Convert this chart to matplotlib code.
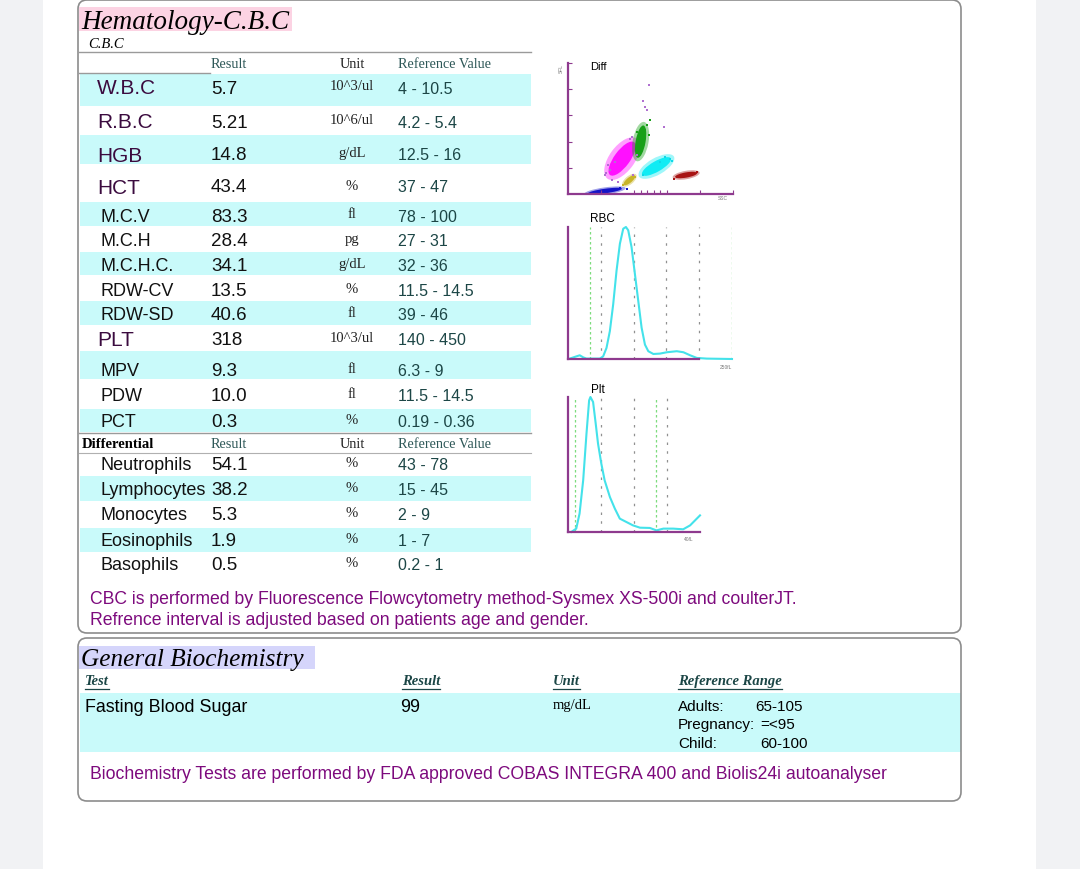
import matplotlib.pyplot as plt
from matplotlib.patches import FancyBboxPatch, Rectangle, Ellipse

# ---------------- data ----------------
cbc_names = ["W.B.C", "R.B.C", "HGB", "HCT", "M.C.V", "M.C.H", "M.C.H.C.",
             "RDW-CV", "RDW-SD", "PLT", "MPV", "PDW", "PCT"]
cbc_results = ["5.7", "5.21", "14.8", "43.4", "83.3", "28.4", "34.1",
               "13.5", "40.6", "318", "9.3", "10.0", "0.3"]
cbc_units = ["10^3/ul", "10^6/ul", "g/dL", "%", "fl", "pg", "g/dL",
             "%", "fl", "10^3/ul", "fl", "fl", "%"]
cbc_refs = ["4 - 10.5", "4.2 - 5.4", "12.5 - 16", "37 - 47", "78 - 100", "27 - 31",
            "32 - 36", "11.5 - 14.5", "39 - 46", "140 - 450", "6.3 - 9",
            "11.5 - 14.5", "0.19 - 0.36"]
main_params = ["W.B.C", "R.B.C", "HGB", "HCT", "PLT"]

diff_names = ["Neutrophils", "Lymphocytes", "Monocytes", "Eosinophils", "Basophils"]
diff_results = ["54.1", "38.2", "5.3", "1.9", "0.5"]
diff_units = ["%", "%", "%", "%", "%"]
diff_refs = ["43 - 78", "15 - 45", "2 - 9", "1 - 7", "0.2 - 1"]

# RBC histogram (fL vs relative count)
rbc_fl = [2.6, 12.8, 17.9, 23.0, 28.1, 48.5, 53.6, 58.7, 63.8, 68.9, 74.0, 79.1,
          84.2, 88.3, 91.8, 96.9, 102.0, 107.1, 112.2, 117.3, 122.4, 130.1, 140.3,
          150.5, 165.8, 176.0, 186.2, 196.4, 211.7, 250.0]
rbc_count = [0.3, 2.0, 2.8, 1.3, 0.3, 0.3, 2.0, 8.4, 21.1, 41.5, 66.9, 87.3,
             98.7, 100.0, 97.5, 84.7, 64.4, 44.0, 23.7, 10.9, 5.9, 3.8, 4.1,
             5.1, 5.9, 5.1, 2.8, 0.8, 0.3, 0.0]

# PLT histogram
plt_fl = [1.0, 2.5, 3.5, 4.6, 5.6, 6.4, 6.8, 7.6, 8.4, 9.1, 10.1, 11.1, 12.7,
          14.2, 15.7, 17.7, 19.7, 21.8, 24.8, 26.8, 28.9, 31.9, 34.9, 37.0, 38.5, 40.0]
plt_count = [0.0, 2.5, 13.6, 38.3, 72.8, 97.5, 100.0, 96.3, 80.2, 65.4, 50.6,
             38.3, 25.9, 17.3, 9.9, 7.4, 4.9, 3.2, 3.0, 1.2, 2.5, 2.5, 2.0, 4.9,
             8.6, 12.3]

# DIFF scattergram clusters (SSC, SFL)
cl_x = [56, 82, 110, 134, 179, 93]
cl_y = [4.5, 54, 80, 42, 29, 21]
cl_len = [52, 62, 50, 50, 34, 22]
cl_wid = [7, 24, 15, 16, 8, 8]
cl_ang = [8, 54, 80, 30, 10, 40]
cl_colors = ["#1414c8", "#ff10ff", "#18a018", "#10ecf4", "#a81414", "#c8b428"]

lav_x = [122, 114, 117, 119, 94, 61, 56, 66, 76, 99, 145, 71, 97, 105, 64, 58]
lav_y = [167, 142, 133, 128, 84.5, 44, 28.5, 21, 18, 28.5, 102, 49, 87, 60, 36, 32]
grn_x = [124.5, 117, 104, 122, 112, 119]
grn_y = [112.5, 97, 95, 90, 69, 105]
cyn_x = [155, 147, 114, 140, 158]
cyn_y = [54, 56.5, 28.5, 49, 50]
red_x = [160, 196, 165]
red_y = [23, 34, 26]
blu_x = [33, 79, 89, 40]
blu_y = [0.5, 9, 8, 2]
yel_x = [84, 102]
yel_y = [14, 26]

bio_tests = ["Fasting Blood Sugar"]
bio_results = ["99"]
bio_units = ["mg/dL"]
bio_ref_groups = ["Adults:", "Pregnancy:", "Child:"]
bio_ref_values = ["65-105", "=<95", "60-100"]

# ---------------- layout ----------------
W, H = 1080, 870
SANS = "Liberation Sans"
SERIF = "Liberation Serif"
CYAN = "#c9fafa"
PURPLE = "#8e3a8e"
NAME_COL = "#3b0b3f"
REF_COL = "#1c4646"
HEAD_COL = "#2e5858"
NOTE_COL = "#7d0a7d"

fig = plt.figure(figsize=(10.8, 8.7), dpi=100, facecolor="#f1f2f4")
ax = fig.add_axes([0, 0, 1, 1])
ax.set_xlim(0, W)
ax.set_ylim(H, 0)
ax.axis("off")

ax.add_patch(Rectangle((43, 0), 993, H, facecolor="white", edgecolor="none", zorder=0))
for (bx, by, bw, bh) in [(78, 1, 883, 633), (78, 639, 883, 163)]:
    ax.add_patch(FancyBboxPatch((bx, by), bw, bh, boxstyle="round,pad=0,rounding_size=9",
                                facecolor="none", edgecolor="#8c8c8c", lw=1.2, zorder=2))

# titles
ax.add_patch(Rectangle((79, 8), 213, 24, facecolor="#fcd3e3", edgecolor="none", zorder=1))
ax.text(81, 29, "Hematology-C.B.C", family=SERIF, style="italic", fontsize=19.5,
        va="baseline", color="black", zorder=3)
ax.text(88, 45, "C.B.C", family=SERIF, style="italic", fontsize=10.5, va="center")

# shaded bands
cbc_row_y = [89, 123, 156, 188, 217, 242, 267, 292, 316, 341, 372, 397, 423]
cbc_bands = [(75, 107), (136, 165), (203, 227), (253, 276), (302, 326), (352, 380), (410, 433)]
diff_row_y = [466, 491, 516, 542, 566]
diff_bands = [(477, 502), (529, 553)]
for top, bot in cbc_bands + diff_bands:
    ax.barh((top + bot) / 2, 451, left=80, height=bot - top, color=CYAN, zorder=1)

# table lines
ax.plot([79, 531], [53, 53], color="#9a9a9a", lw=1, zorder=2)
ax.plot([79, 210], [74, 74], color="#9a9a9a", lw=1, zorder=2)
ax.plot([79, 531], [434, 434], color="#9a9a9a", lw=1, zorder=2)
ax.plot([79, 531], [454, 454], color="#b0b0b0", lw=0.8, zorder=2)

# headers
for hy in [64, 445]:
    ax.text(211, hy, "Result", family=SERIF, fontsize=10.3, color=HEAD_COL, va="center")
    ax.text(352, hy, "Unit", family=SERIF, fontsize=10.3, color="#222222", va="center",
            ha="center")
    ax.text(398, hy, "Reference Value", family=SERIF, fontsize=10.3, color=HEAD_COL,
            va="center")
ax.text(82, 445, "Differential", family=SERIF, fontsize=10.5, weight="bold", va="center")

for i, name in enumerate(cbc_names):
    y = cbc_row_y[i]
    if name in main_params:
        ax.text(97, y, name, family=SANS, fontsize=15, color=NAME_COL, va="center")
    else:
        ax.text(100, y, name, family=SANS, fontsize=13, color="#111111", va="center")
    ax.text(211, y, cbc_results[i], family=SANS, fontsize=13.5, color="#111111", va="center")
    ax.text(352, y - 2, cbc_units[i], family=SERIF, fontsize=10.5, color="#222222",
            va="center", ha="center")
    ax.text(398, y, cbc_refs[i], family=SANS, fontsize=11.5, color=REF_COL, va="center")

for i, name in enumerate(diff_names):
    y = diff_row_y[i]
    ax.text(100, y, name, family=SANS, fontsize=13, color="#111111", va="center")
    ax.text(211, y, diff_results[i], family=SANS, fontsize=13.5, color="#111111", va="center")
    ax.text(352, y - 2, diff_units[i], family=SERIF, fontsize=10.5, color="#222222",
            va="center", ha="center")
    ax.text(398, y, diff_refs[i], family=SANS, fontsize=11.5, color=REF_COL, va="center")

ax.text(90, 599.5, "CBC is performed by Fluorescence Flowcytometry method-Sysmex XS-500i and coulterJT.",
        family=SANS, fontsize=12.7, color=NOTE_COL, va="center")
ax.text(90, 620.5, "Refrence interval is adjusted based on patients age and gender.",
        family=SANS, fontsize=12.7, color=NOTE_COL, va="center")

# ---------------- biochemistry ----------------
ax.add_patch(Rectangle((79, 647), 236, 23, facecolor="#d5d5fb", edgecolor="none", zorder=1))
ax.text(81, 666, "General Biochemistry", family=SERIF, style="italic", fontsize=18.2,
        va="baseline", zorder=3)
ax.barh(723.5, 881, left=80, height=59, color=CYAN, zorder=1)

renderer = fig.canvas.get_renderer()
inv = ax.transData.inverted()
for hx, label in zip([85, 402, 553, 678], ["Test", "Result", "Unit", "Reference Range"]):
    t = ax.text(hx, 682, label, family=SERIF, style="italic", weight="bold",
                fontsize=10.5, color=REF_COL, va="center")
    bb = t.get_window_extent(renderer)
    (x0, _), (x1, _) = inv.transform([[bb.x0, bb.y0], [bb.x1, bb.y1]])
    ax.plot([x0, x1], [690, 690], color=REF_COL, lw=0.9)

ax.text(85, 708, bio_tests[0], family=SANS, fontsize=12.9, va="center")
ax.text(400, 708, bio_results[0], family=SANS, fontsize=12.9, va="center")
ax.text(553, 706, bio_units[0], family=SERIF, fontsize=10.5, va="center")
ref_val_x = [755, 760, 760]
for i, grp in enumerate(bio_ref_groups):
    y = 707 + 18.5 * i
    ax.text(678, y, grp, family=SANS, fontsize=11, va="center")
    ax.text(ref_val_x[i], y, bio_ref_values[i], family=SANS, fontsize=11, va="center")

ax.text(90, 774.5, "Biochemistry Tests are performed by FDA approved COBAS INTEGRA 400 and Biolis24i autoanalyser",
        family=SANS, fontsize=12.7, color=NOTE_COL, va="center")


# ---------------- instrument plots ----------------
def px_axes(x0, x1, y0, y1):
    a = fig.add_axes([x0 / W, 1 - y1 / H, (x1 - x0) / W, (y1 - y0) / H])
    a.patch.set_alpha(0)
    for s in ["top", "right"]:
        a.spines[s].set_visible(False)
    for s in ["left", "bottom"]:
        a.spines[s].set_color(PURPLE)
        a.spines[s].set_linewidth(1.6)
    a.tick_params(labelbottom=False, labelleft=False)
    return a


# DIFF
axd = px_axes(568, 733, 64, 195)
axd.set_xlim(0, 250)
axd.set_ylim(0, 200)
axd.set_xticks([50, 100, 150, 200, 250])
axd.set_xticks([110, 120, 130, 140], minor=True)
axd.set_yticks([40, 80, 120, 160, 200])
axd.tick_params(which="both", direction="in", length=3, width=0.8, color=PURPLE)
for i in range(len(cl_x)):
    axd.add_patch(Ellipse((cl_x[i], cl_y[i]), cl_len[i] * 1.22, cl_wid[i] * 1.6,
                          angle=cl_ang[i], color=cl_colors[i], alpha=0.4, lw=0))
    axd.add_patch(Ellipse((cl_x[i], cl_y[i]), cl_len[i], cl_wid[i],
                          angle=cl_ang[i], color=cl_colors[i], lw=0))
for xs, ys, c in [(lav_x, lav_y, "#b070d0"), (grn_x, grn_y, "#18a018"),
                  (cyn_x, cyn_y, "#10d8e8"), (red_x, red_y, "#a81414"),
                  (blu_x, blu_y, "#1414c8"), (yel_x, yel_y, "#c8b428")]:
    axd.scatter(xs, ys, s=2.5, marker="s", color=c, lw=0, clip_on=False)
ax.text(590, 67, "Diff", family=SANS, fontsize=8, va="center")
ax.text(561, 69, "SFL", family=SANS, fontsize=3.5, color="#777777", rotation=90,
        va="center", ha="center")
ax.text(718, 199, "SSC", family=SANS, fontsize=3.5, color="#777777", va="center")

# RBC
axr = px_axes(568, 732, 228, 360)
axr.set_xlim(0, 250)
axr.set_ylim(0, 100)
axr.set_xticks([])
axr.set_yticks([])
axr.spines["bottom"].set_bounds(0, 200)
for v in [50, 100, 150, 200]:
    axr.axvline(v, color="#909090", ls=(0, (2, 5)), lw=0.9)
for v in [34, 250]:
    axr.axvline(v, color="#7ddc7d", ls=(0, (2, 2)), lw=0.9)
axr.plot(rbc_fl, rbc_count, color="#44e2ea", lw=1.5, clip_on=False)
ax.text(590, 219, "RBC", family=SANS, fontsize=8.5, va="center")
ax.text(720, 368, "250fL", family=SANS, fontsize=3.5, color="#777777", va="center")

# PLT
axp = px_axes(568, 700, 398, 533)
axp.set_xlim(0, 40)
axp.set_ylim(0, 100)
axp.set_xticks([])
axp.set_yticks([])
for v in [10, 20, 30]:
    axp.axvline(v, color="#909090", ls=(0, (2, 5)), lw=0.9)
for v in [2, 26.8]:
    axp.axvline(v, color="#7ddc7d", ls=(0, (2, 2)), lw=0.9)
axp.plot(plt_fl, plt_count, color="#44e2ea", lw=1.5, clip_on=False)
ax.text(591, 390, "Plt", family=SANS, fontsize=8.5, va="center")
ax.text(684, 540, "40fL", family=SANS, fontsize=3.5, color="#777777", va="center")

fig.savefig("out.png", dpi=100, facecolor=fig.get_facecolor())
